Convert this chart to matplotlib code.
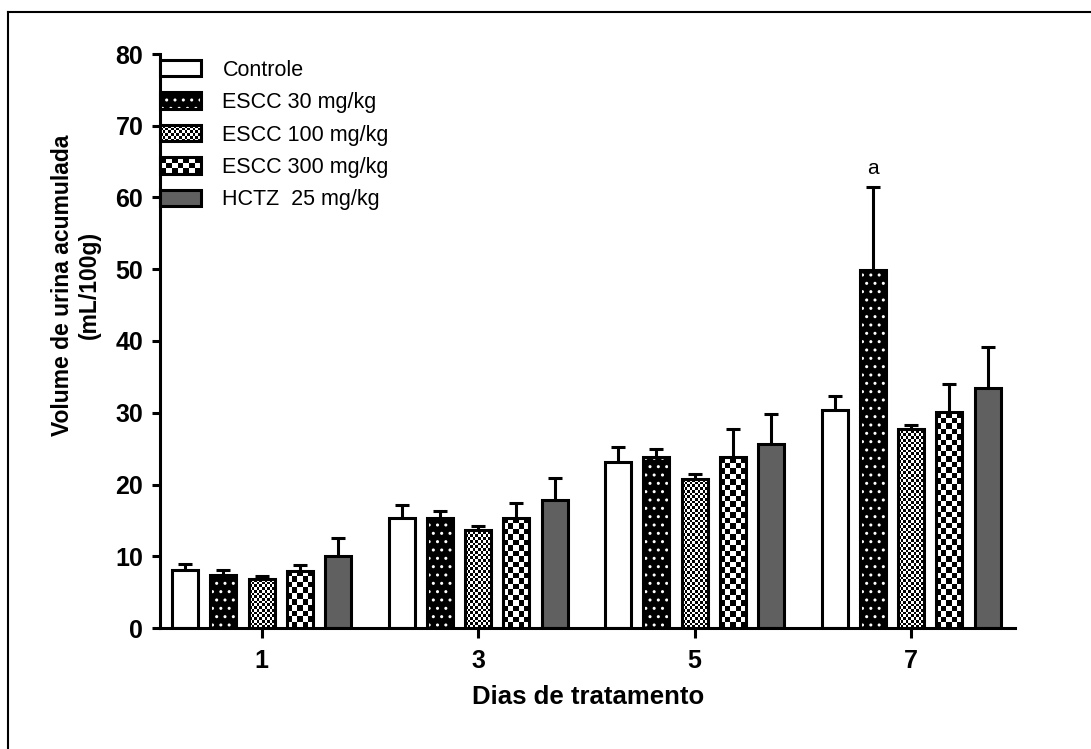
import numpy as np
import matplotlib
matplotlib.use("Agg")
from matplotlib import pyplot as plt
from matplotlib.patches import Patch, Rectangle
from matplotlib.lines import Line2D
from matplotlib.legend_handler import HandlerBase

plt.rcParams['font.family'] = ['Liberation Sans', 'DejaVu Sans']

# data
days = ['1', '3', '5', '7']
groups = ['Controle', 'ESCC 30 mg/kg', 'ESCC 100 mg/kg', 'ESCC 300 mg/kg', 'HCTZ  25 mg/kg']
controle = [8.05, 15.4, 23.2, 30.4]
controle_err = [0.9, 1.8, 2.0, 2.0]
escc30 = [7.4, 15.3, 23.9, 49.9]
escc30_err = [0.65, 1.0, 1.0, 11.6]
escc100 = [6.8, 13.7, 20.7, 27.75]
escc100_err = [0.5, 0.5, 0.8, 0.55]
escc300 = [8.0, 15.3, 23.8, 30.1]
escc300_err = [0.75, 2.1, 4.0, 3.9]
hctz = [10.0, 17.9, 25.7, 33.4]
hctz_err = [2.5, 3.0, 4.1, 5.7]

means = [controle, escc30, escc100, escc300, hctz]
errs = [controle_err, escc30_err, escc100_err, escc300_err, hctz_err]

# fill styles: face colour, hatch (white dots), checker cell size in px
styles = [
    dict(face='white'),
    dict(face='black', hatch='..'),
    dict(face='white', cell=2.7),
    dict(face='white', cell=5.5),
    dict(face='#606060'),
]

LW = 2.2
pitch = 0.1767
width = 0.12


class PatternHandler(HandlerBase):
    """Legend box with the same fill as the bars."""

    def __init__(self, style):
        super().__init__()
        self.style = style

    def create_artists(self, legend, orig_handle, xdescent, ydescent,
                       width, height, fontsize, trans):
        x0, y0 = -xdescent, -ydescent
        st = self.style
        arts = []
        base = Rectangle((x0, y0), width, height, facecolor=st['face'],
                         edgecolor='white' if 'hatch' in st else 'none',
                         lw=0, hatch=st.get('hatch'), transform=trans)
        arts.append(base)
        if 'cell' in st:
            c = st['cell'] * 0.72  # px -> pt
            nx = max(1, round(width / c))
            ny = max(1, round(height / c))
            cw, ch = width / nx, height / ny
            for i in range(nx):
                for j in range(ny):
                    if (i + j) % 2 == 0:
                        arts.append(Rectangle((x0 + i * cw, y0 + j * ch), cw, ch,
                                              facecolor='black', lw=0, transform=trans))
        arts.append(Rectangle((x0, y0), width, height, facecolor='none',
                              edgecolor='black', lw=LW, transform=trans))
        return arts


fig = plt.figure(figsize=(10.91, 7.49), dpi=100)
ax = fig.add_axes([160 / 1091, 1 - 628 / 749, (1015 - 160) / 1091, (628 - 54) / 749])
ax.set_xlim(-0.469, 3.48)
ax.set_ylim(0, 80)

x = np.arange(len(days))
px_x = ax.transData.transform((1, 0))[0] - ax.transData.transform((0, 0))[0]
px_y = ax.transData.transform((0, 1))[1] - ax.transData.transform((0, 0))[1]

for i, (m, e, st) in enumerate(zip(means, errs, styles)):
    xi = x + (i - 2) * pitch
    ax.errorbar(xi, m, yerr=e, fmt='none', ecolor='black', elinewidth=LW,
                capsize=4.9, capthick=LW, zorder=1)
    ax.bar(xi, m, width, color=st['face'],
           edgecolor='white' if 'hatch' in st else 'none',
           linewidth=0, hatch=st.get('hatch'), zorder=2)
    if 'cell' in st:
        for xc, h in zip(xi, m):
            cols = max(1, round(width * px_x / st['cell']))
            rows = max(1, round(h * px_y / st['cell']))
            board = np.indices((rows, cols)).sum(axis=0) % 2
            ax.imshow(board, cmap='gray', interpolation='nearest', aspect='auto',
                      extent=(xc - width / 2, xc + width / 2, 0, h), zorder=3)
    ax.bar(xi, m, width, fill=False, edgecolor='black', linewidth=LW, zorder=4)

# significance mark
ax.text(x[3] - pitch, escc30[3] + escc30_err[3] + 1.2, 'a', ha='center', va='bottom',
        fontsize=15)

ax.set_xlim(-0.469, 3.48)
ax.set_ylim(0, 80)
ax.set_yticks(range(0, 81, 10))
ax.set_xticks(x)
ax.set_xticklabels(days)
for s in ['top', 'right']:
    ax.spines[s].set_visible(False)
for s in ['left', 'bottom']:
    ax.spines[s].set_linewidth(LW)
ax.tick_params(axis='y', direction='out', length=6, width=LW, pad=6, labelsize=18)
ax.tick_params(axis='x', direction='out', length=7, width=LW, pad=8, labelsize=18)
for lab in ax.get_xticklabels() + ax.get_yticklabels():
    lab.set_fontweight('bold')

handles = [Patch(label=g) for g in groups]
ax.legend(handles=handles, handler_map={h: PatternHandler(st) for h, st in zip(handles, styles)},
          loc='upper left', bbox_to_anchor=(0.0, 0.99), frameon=False, fontsize=15.5,
          handlelength=1.9, handleheight=0.8, handletextpad=1.0, labelspacing=0.53,
          borderpad=0, borderaxespad=0)

fig.text(76 / 1091, 1 - 285 / 749, 'Volume de urina acumulada\n(mL/100g)', rotation=90,
         ha='center', va='center', multialignment='center', fontsize=16.5, fontweight='bold')
fig.text(588 / 1091, 1 - 697 / 749, 'Dias de tratamento', ha='center', va='center',
         fontsize=18.5, fontweight='bold')

# outer frame of the figure panel
fx, fy = 8 / 1091, 1 - 12 / 749
fig.add_artist(Line2D([fx, fx], [0, fy], color='black', lw=1.5, transform=fig.transFigure))
fig.add_artist(Line2D([fx, 1], [fy, fy], color='black', lw=1.5, transform=fig.transFigure))

fig.savefig('out.png', dpi=100)
